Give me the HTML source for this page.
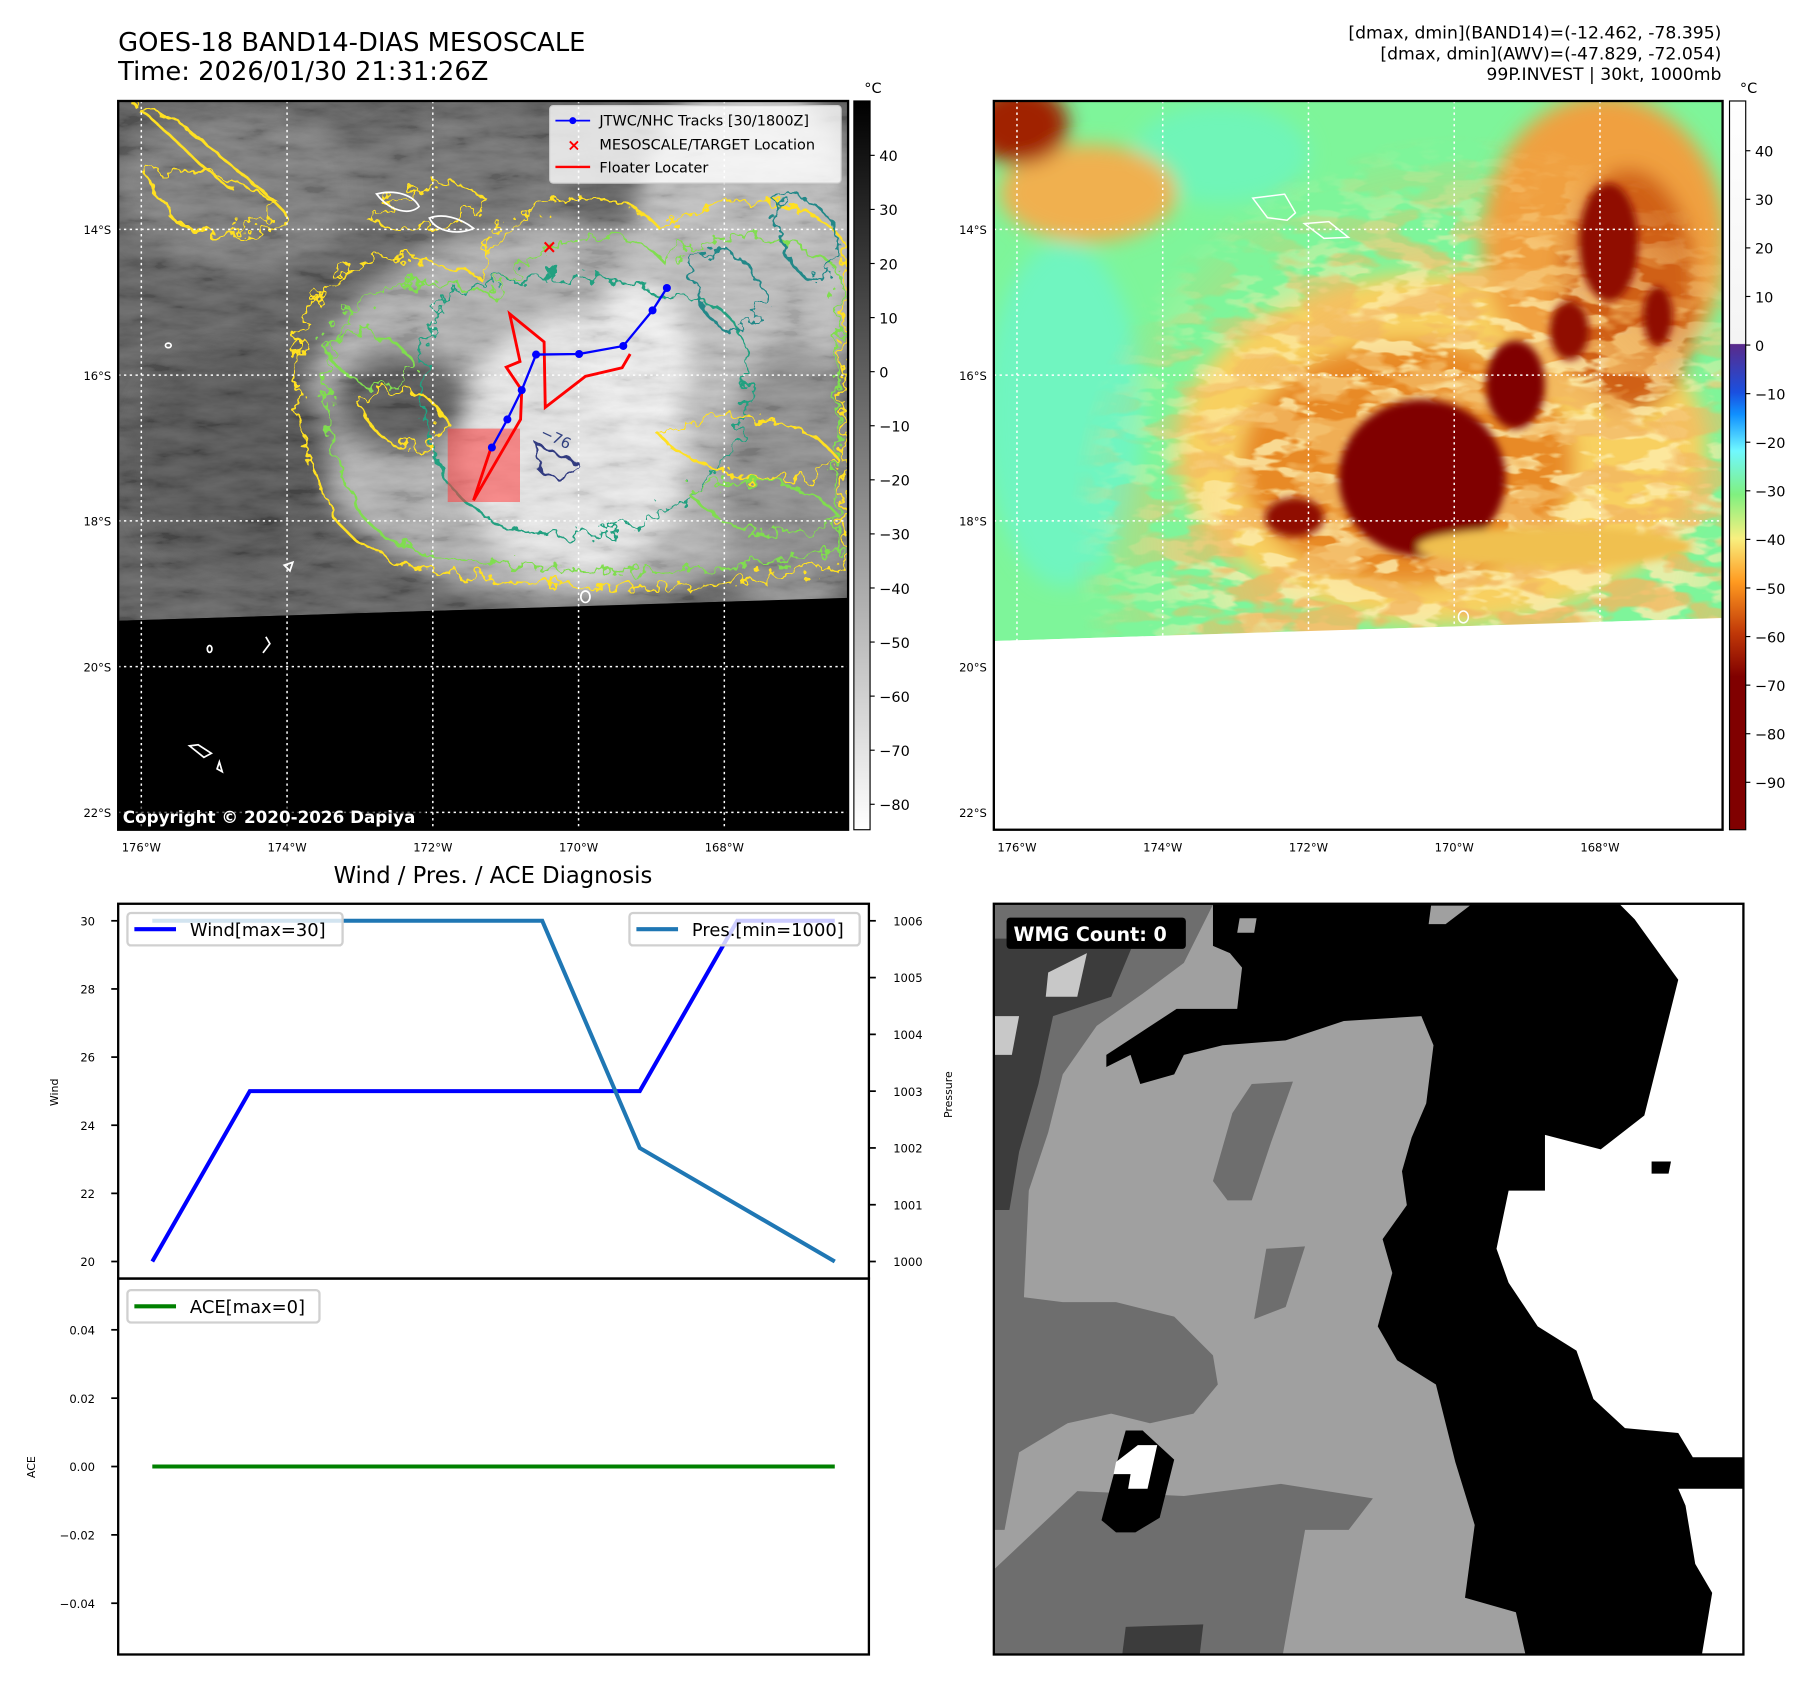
<!DOCTYPE html>
<html><head><meta charset="utf-8">
<style>
html,body{margin:0;padding:0;background:#fff;}
svg{display:block;font-family:"DejaVu Sans","Liberation Sans",sans-serif;}
</style></head>
<body>
<svg id="fig" width="1813" height="1690" viewBox="1 -0.3 1567 1461" xmlns="http://www.w3.org/2000/svg">
<defs>
  <clipPath id="cm1"><rect x="103" y="87" width="631" height="630"/></clipPath>
  <clipPath id="cm2"><rect x="860" y="87" width="630" height="630"/></clipPath>
  <clipPath id="cw"><rect x="860" y="781" width="648" height="649"/></clipPath>
  <filter id="blur8" x="-50%" y="-50%" width="200%" height="200%"><feGaussianBlur stdDeviation="8"/></filter>
  <filter id="blur20" x="-50%" y="-50%" width="200%" height="200%"><feGaussianBlur stdDeviation="20"/></filter>
  <filter id="wig" x="-10%" y="-10%" width="120%" height="120%">
    <feTurbulence type="fractalNoise" baseFrequency="0.04" numOctaves="3" seed="3"/>
    <feDisplacementMap in="SourceGraphic" scale="55"/>
  </filter>
  <filter id="wig2" x="-10%" y="-10%" width="120%" height="120%">
    <feTurbulence type="fractalNoise" baseFrequency="0.05" numOctaves="2" seed="8"/>
    <feDisplacementMap in="SourceGraphic" scale="30"/>
  </filter>
  <filter id="tex1" x="0" y="0" width="100%" height="100%">
    <feTurbulence type="fractalNoise" baseFrequency="0.012 0.04" numOctaves="4" seed="11"/>
    <feColorMatrix type="matrix" values="1.6 0 0 0 -0.35  1.6 0 0 0 -0.35  1.6 0 0 0 -0.35  0 0 0 0 0.45"/>
  </filter>
  <filter id="tex2" x="0" y="0" width="100%" height="100%">
    <feTurbulence type="fractalNoise" baseFrequency="0.008 0.02" numOctaves="3" seed="5"/>
    <feColorMatrix type="matrix" values="0 0 0 0 0.90  0 0 0 0 0.48  0 0 0 0 0.12  0 0 0 9 -4.2"/>
  </filter>
  <filter id="tex3" x="0" y="0" width="100%" height="100%">
    <feTurbulence type="fractalNoise" baseFrequency="0.012 0.03" numOctaves="3" seed="21"/>
    <feColorMatrix type="matrix" values="0 0 0 0 0.98  0 0 0 0 0.85  0 0 0 0 0.42  0 0 0 9 -4.4"/>
  </filter>
  <radialGradient id="m2g" cx="0.6" cy="0.55" r="0.5">
    <stop offset="0" stop-color="#fff"/><stop offset="0.55" stop-color="#fff"/><stop offset="1" stop-color="#000"/>
  </radialGradient>
  <mask id="m2mask"><rect x="0" y="0" width="1600" height="1600" fill="url(#m2g)"/></mask>
  <linearGradient id="cb1g" x1="0" y1="0" x2="0" y2="1">
    <stop offset="0" stop-color="#000"/><stop offset="1" stop-color="#fff"/>
  </linearGradient>
  <linearGradient id="cb2g" x1="0" y1="0" x2="0" y2="1">
    <stop offset="0" stop-color="#ffffff"/>
    <stop offset="0.333" stop-color="#f4f4f4"/>
    <stop offset="0.334" stop-color="#5a2a8a"/>
    <stop offset="0.40" stop-color="#1a50e0"/>
    <stop offset="0.43" stop-color="#1090ff"/>
    <stop offset="0.48" stop-color="#70f8ff"/>
    <stop offset="0.54" stop-color="#80f080"/>
    <stop offset="0.60" stop-color="#f8f080"/>
    <stop offset="0.66" stop-color="#ff9a20"/>
    <stop offset="0.73" stop-color="#c03808"/>
    <stop offset="0.79" stop-color="#800000"/>
    <stop offset="1" stop-color="#800000"/>
  </linearGradient>
</defs>

<!-- titles -->
<text x="103" y="44" font-size="22.3">GOES-18 BAND14-DIAS MESOSCALE</text>
<text x="103" y="69" font-size="22.3">Time: 2026/01/30 21:31:26Z</text>
<g font-size="14.9" text-anchor="end">
  <text x="1489" y="33">[dmax, dmin](BAND14)=(-12.462, -78.395)</text>
  <text x="1489" y="51">[dmax, dmin](AWV)=(-47.829, -72.054)</text>
  <text x="1489" y="69">99P.INVEST | 30kt, 1000mb</text>
</g>

<!-- MAP 1 -->
<g clip-path="url(#cm1)">
  <rect x="103" y="87" width="631" height="630" fill="#000"/>
  <g transform="translate(1,-0.3) scale(0.496)">
    <polygon points="207,175 1478,175 1478,1042 207,1082" fill="#5c5c5c"/>
    <g filter="url(#blur20)">
      <ellipse cx="420" cy="330" rx="220" ry="140" fill="#7a7a7a"/>
      <ellipse cx="800" cy="320" rx="200" ry="120" fill="#6e6e6e"/>
      <ellipse cx="1000" cy="720" rx="470" ry="330" fill="#b0b0b0"/>
      <ellipse cx="1300" cy="450" rx="200" ry="330" fill="#bdbdbd"/>
      <ellipse cx="1380" cy="850" rx="120" ry="250" fill="#8c8c8c"/>
      <ellipse cx="1000" cy="780" rx="200" ry="230" fill="#e8e8e8"/>
      <ellipse cx="1110" cy="620" rx="90" ry="130" fill="#f0f0f0"/>
      <ellipse cx="700" cy="700" rx="120" ry="90" fill="#555"/>
      <ellipse cx="400" cy="800" rx="180" ry="200" fill="#505050"/>
    </g>
    <rect x="207" y="175" width="1271" height="910" filter="url(#tex1)" opacity="0.3"/>
    <g fill="none" stroke-width="4.5" filter="url(#wig)">
      <path d="M530,560 C560,450 700,420 830,480 C900,300 1100,330 1150,400 C1250,330 1400,330 1470,420 L1470,980 C1300,1020 1100,1040 880,1010 C700,1000 600,960 570,870 C520,780 500,680 530,560 Z" stroke="#ffe020"/>
      <path d="M580,590 C620,490 760,470 860,520 C940,380 1100,400 1150,450 C1260,400 1380,400 1460,470 L1460,960 C1300,990 1100,1010 900,985 C730,980 640,940 610,860 C570,780 560,680 580,590 Z" stroke="#80dd50"/>
      <path d="M780,520 C840,470 1100,470 1160,520 C1240,500 1320,560 1300,700 C1290,820 1180,900 1050,930 C900,950 800,900 760,800 C720,700 730,580 780,520 Z" stroke="#20a080"/>
      <path d="M620,700 C680,660 760,680 780,740 C740,800 660,790 620,700 Z" stroke="#ffe020"/>
      <path d="M560,600 C620,560 700,580 720,640 C680,690 600,680 560,600 Z" stroke="#80dd50"/>
      <path d="M1150,760 C1250,700 1400,720 1460,800 C1400,860 1250,850 1150,760 Z" stroke="#ffe020"/>
      <path d="M1200,860 C1300,820 1420,840 1460,900 C1400,950 1270,940 1200,860 Z" stroke="#80dd50"/>
      <path d="M230,180 C300,230 350,300 420,340 M230,180 C320,200 360,260 480,350 C440,420 330,420 290,370" stroke="#ffe020"/>
      <path d="M250,300 C350,280 480,330 500,380 C470,420 380,420 300,380 Z" stroke="#ffe020"/>
      <path d="M640,380 C700,330 780,300 840,340 C820,400 720,420 640,380 Z" stroke="#ffe020"/>
      <path d="M1200,450 C1250,420 1320,440 1330,520 C1300,600 1220,600 1200,450 Z" stroke="#208888"/>
      <path d="M1350,350 C1400,330 1460,360 1460,450 C1420,520 1360,480 1350,350 Z" stroke="#208888"/>
    </g>
    <path d="M930,770 C960,790 990,800 1010,810 C1000,840 960,840 940,820 Z" fill="none" stroke="#303a80" stroke-width="4" filter="url(#wig2)"/>
    <text x="940" y="760" font-size="26" fill="#304080" transform="rotate(25 940 760)">−76</text>
    <polygon points="207,1082 1478,1042 1478,1446 207,1446" fill="#000"/>
    <g fill="none" stroke="#fff" stroke-width="3">
      <path d="M656,338 C690,330 720,340 730,360 C715,375 680,370 656,338 Z"/>
      <path d="M748,380 C770,372 800,378 825,398 C800,410 760,405 748,380 Z"/>
      <ellipse cx="293" cy="602" rx="5" ry="4"/>
      <ellipse cx="365" cy="1131" rx="4" ry="6"/>
      <path d="M463,1110 L470,1122 L458,1138"/>
      <path d="M330,1300 L345,1298 L368,1313 L355,1320 Z"/>
      <path d="M382,1328 L387,1345 L378,1340 Z"/>
      <path d="M495,985 L510,980 L505,995 Z"/>
      <ellipse cx="1020" cy="1040" rx="8" ry="10"/>
    </g>
  </g>
  <g stroke="#fff" stroke-width="1.3" stroke-dasharray="2,3">
    <line x1="123" y1="87" x2="123" y2="717"/><line x1="249" y1="87" x2="249" y2="717"/><line x1="375" y1="87" x2="375" y2="717"/><line x1="501" y1="87" x2="501" y2="717"/><line x1="627" y1="87" x2="627" y2="717"/>
    <line x1="103" y1="198" x2="734" y2="198"/><line x1="103" y1="324" x2="734" y2="324"/><line x1="103" y1="450" x2="734" y2="450"/><line x1="103" y1="576" x2="734" y2="576"/><line x1="103" y1="702" x2="734" y2="702"/>
  </g>
  <g transform="translate(1,-0.3) scale(0.496)">
    <rect x="780" y="747" width="126" height="128" fill="rgba(255,60,60,0.55)"/>
    <polyline points="1098,617 1084,641 1020,656 950,710 948,596 888,547 906,630 882,640 909,680 907,731 825,872 855,782" fill="none" stroke="#ff0000" stroke-width="5"/>
    <polyline points="857,780 884,731 909,680 934,618 1009,617 1086,603 1137,541 1162,502" fill="none" stroke="#0000ff" stroke-width="4"/>
    <g fill="#0000ff">
      <circle cx="857" cy="780" r="7"/><circle cx="884" cy="731" r="7"/><circle cx="909" cy="680" r="7"/><circle cx="934" cy="618" r="7"/><circle cx="1009" cy="617" r="7"/><circle cx="1086" cy="603" r="7"/><circle cx="1137" cy="541" r="7"/><circle cx="1162" cy="502" r="7"/>
    </g>
    <text x="957" y="441" font-size="32" font-weight="bold" fill="#ff0000" text-anchor="middle">×</text>
  </g>
  <g>
    <rect x="476" y="91" width="252" height="67" rx="3" fill="rgba(255,255,255,0.8)" stroke="#ccc"/>
    <line x1="481" y1="104" x2="511" y2="104" stroke="#0000ff" stroke-width="1.5"/><circle cx="496" cy="104" r="3" fill="#0000ff"/>
    <text x="497" y="130" font-size="14" fill="#ff0000" font-weight="bold" text-anchor="middle">×</text>
    <line x1="481" y1="144" x2="511" y2="144" stroke="#ff0000" stroke-width="2"/>
    <g font-size="12.5" fill="#000">
      <text x="519" y="108">JTWC/NHC Tracks [30/1800Z]</text>
      <text x="519" y="129">MESOSCALE/TARGET Location</text>
      <text x="519" y="149">Floater Locater</text>
    </g>
  </g>
  <rect x="104" y="695" width="265" height="22" fill="rgba(0,0,0,0.6)"/>
  <text x="107" y="711" font-size="14.5" font-weight="bold" fill="#fff">Copyright © 2020-2026 Dapiya</text>
</g>
<rect x="103" y="87" width="631" height="630" fill="none" stroke="#000" stroke-width="2"/>

<g font-size="10" text-anchor="end">
  <text x="97" y="202">14°S</text><text x="97" y="328">16°S</text><text x="97" y="454">18°S</text><text x="97" y="580">20°S</text><text x="97" y="706">22°S</text>
</g>
<g font-size="10" text-anchor="middle">
  <text x="123" y="736">176°W</text><text x="249" y="736">174°W</text><text x="375" y="736">172°W</text><text x="501" y="736">170°W</text><text x="627" y="736">168°W</text>
</g>
<g>
  <rect x="739" y="87" width="14" height="630" fill="url(#cb1g)" stroke="#000" stroke-width="1"/>
  <text x="748" y="80" font-size="12.5">°C</text>
  <g font-size="12.5" id="cb1ticks"></g>
</g>

<!-- MAP 2 -->
<g clip-path="url(#cm2)">
  <rect x="860" y="87" width="630" height="630" fill="#fff"/>
  <g transform="translate(856.7,81.8) scale(0.4245)">
    <polygon points="10,10 1495,10 1495,1065 10,1112" fill="#7ef59a"/>
    <g filter="url(#blur20)">
      <ellipse cx="150" cy="650" rx="160" ry="350" fill="#70f5c0"/>
      <ellipse cx="470" cy="120" rx="180" ry="100" fill="#70f5b8"/>
      <ellipse cx="920" cy="720" rx="540" ry="360" fill="#f8d060"/>
      <ellipse cx="1250" cy="300" rx="250" ry="300" fill="#f0a040"/>
      <ellipse cx="200" cy="200" rx="180" ry="100" fill="#f0b050"/>
      <ellipse cx="850" cy="750" rx="340" ry="250" fill="#e88a28"/>
      <ellipse cx="1300" cy="400" rx="140" ry="250" fill="#d06018"/>
      <ellipse cx="60" cy="60" rx="100" ry="80" fill="#a02000"/>
    </g>
    <rect x="10" y="10" width="1490" height="1100" filter="url(#tex3)" mask="url(#m2mask)" opacity="0.8"/>
    <rect x="10" y="10" width="1490" height="1100" filter="url(#tex2)" mask="url(#m2mask)" opacity="0.8"/>
    <g filter="url(#blur8)">
      <ellipse cx="880" cy="780" rx="170" ry="160" fill="#800000"/>
      <ellipse cx="1070" cy="590" rx="60" ry="90" fill="#800000"/>
      <ellipse cx="620" cy="860" rx="60" ry="40" fill="#900800"/>
      <ellipse cx="1260" cy="300" rx="60" ry="120" fill="#900800"/>
      <ellipse cx="1180" cy="480" rx="40" ry="60" fill="#900800"/>
      <ellipse cx="1360" cy="450" rx="30" ry="60" fill="#900800"/>
      <ellipse cx="1150" cy="920" rx="280" ry="40" fill="#f0c050"/>
    </g>
    <polygon points="10,1112 1495,1065 1495,1560 10,1560" fill="#fff"/>
    <g fill="none" stroke="#fff" stroke-width="3">
      <path d="M535,210 L600,202 L622,240 L605,255 L565,250 Z"/>
      <path d="M640,262 L690,258 L730,290 L680,292 Z"/>
      <ellipse cx="964" cy="1063" rx="10" ry="12"/>
    </g>
  </g>
  <g stroke="#fff" stroke-width="1.3" stroke-dasharray="2,3">
    <line x1="880" y1="87" x2="880" y2="717"/><line x1="1006" y1="87" x2="1006" y2="717"/><line x1="1132" y1="87" x2="1132" y2="717"/><line x1="1258" y1="87" x2="1258" y2="717"/><line x1="1384" y1="87" x2="1384" y2="717"/>
    <line x1="860" y1="198" x2="1490" y2="198"/><line x1="860" y1="324" x2="1490" y2="324"/><line x1="860" y1="450" x2="1490" y2="450"/>
  </g>
</g>
<rect x="860" y="87" width="630" height="630" fill="none" stroke="#000" stroke-width="2"/>
<g font-size="10" text-anchor="end">
  <text x="854" y="202">14°S</text><text x="854" y="328">16°S</text><text x="854" y="454">18°S</text><text x="854" y="580">20°S</text><text x="854" y="706">22°S</text>
</g>
<g font-size="10" text-anchor="middle">
  <text x="880" y="736">176°W</text><text x="1006" y="736">174°W</text><text x="1132" y="736">172°W</text><text x="1258" y="736">170°W</text><text x="1384" y="736">168°W</text>
</g>
<g>
  <rect x="1496" y="87" width="14" height="630" fill="url(#cb2g)" stroke="#000" stroke-width="1"/>
  <text x="1505" y="80" font-size="12.5">°C</text>
  <g font-size="12.5" id="cb2ticks"></g>
</g>

<!-- WMG panel -->
<g clip-path="url(#cw)">
  <rect x="860" y="781" width="648" height="649" fill="#a0a0a0"/>
  <g transform="translate(856.7,777.6) scale(0.419)">
    <polygon fill="#6e6e6e" points="10,10 460,10 400,130 320,190 220,260 150,360 120,480 80,600 70,820 150,830 260,830 380,860 460,940 470,1000 420,1060 330,1080 250,1060 160,1080 60,1140 30,1300 10,1300"/>
    <polygon fill="#3c3c3c" points="10,80 300,80 250,200 130,240 100,380 60,520 40,640 10,640"/>
    <polygon fill="#c8c8c8" points="120,150 200,110 180,200 115,200"/>
    <polygon fill="#c8c8c8" points="10,240 60,240 45,320 10,320"/>
    <polygon fill="#6e6e6e" points="540,380 625,375 580,500 540,620 490,620 460,580 500,440"/>
    <polygon fill="#6e6e6e" points="570,720 650,715 610,840 545,865"/>
    <polygon fill="#6e6e6e" points="10,1380 180,1220 400,1230 600,1205 790,1235 740,1300 650,1300 600,1580 10,1580"/>
    <polygon fill="#3c3c3c" points="280,1500 440,1495 430,1580 270,1580"/>
    <polygon fill="#000" points="460,10 1580,10 1580,1580 1110,1580 1085,1470 980,1440 1000,1290 960,1160 920,1000 840,950 800,880 830,770 810,700 860,630 850,560 870,490 900,420 915,300 890,240 730,250 610,290 480,300 400,320 380,360 310,380 290,320 240,345 240,320 385,225 510,225 520,140 495,110 460,95"/>
    <polygon fill="#a0a0a0" points="910,12 990,12 940,50 905,50"/>
    <polygon fill="#a0a0a0" points="515,38 550,38 545,68 510,68"/>
    <polygon fill="#fff" points="1300,10 1580,10 1580,1150 1450,1150 1420,1100 1310,1090 1245,1030 1210,930 1130,880 1070,790 1045,720 1070,600 1145,600 1145,485 1260,515 1350,445 1420,165 1330,40"/>
    <polygon fill="#000" points="1365,540 1405,540 1400,565 1365,565"/>
    <polygon fill="#fff" points="1420,1215 1580,1215 1580,1580 1465,1580 1490,1430 1455,1370 1435,1250"/>
    <polygon fill="#000" points="280,1095 315,1095 380,1155 350,1275 300,1305 260,1305 230,1280 270,1130"/>
    <polygon fill="#fff" points="260,1160 305,1125 345,1125 325,1215 285,1215 290,1185 255,1185"/>
  </g>
  <rect x="871" y="793" width="155" height="27" rx="3" fill="#000"/>
  <text x="877" y="813" font-size="16.5" font-weight="bold" fill="#fff">WMG Count: 0</text>
</g>
<rect x="860" y="781" width="648" height="649" fill="none" stroke="#000" stroke-width="2"/>

<!-- Diagnosis chart -->
<text x="427" y="763" font-size="19.6" text-anchor="middle">Wind / Pres. / ACE Diagnosis</text>
<g id="chart"></g>
</svg>

<script>
// ---- chart data ----
const timeIndex = [0, 1, 2, 3, 4, 5, 6, 7];
const windValues = [20, 25, 25, 25, 25, 25, 30, 30];
const presValues = [1006, 1006, 1006, 1006, 1006, 1002, 1001, 1000];
const aceValues = [0, 0, 0, 0, 0, 0, 0, 0];
const windTicks = [20, 22, 24, 26, 28, 30];
const presTicks = [1000, 1001, 1002, 1003, 1004, 1005, 1006];
const aceTicks = [-0.04, -0.02, 0.00, 0.02, 0.04];
const aceTickLabels = ["\u22120.04", "\u22120.02", "0.00", "0.02", "0.04"];
const cb1Ticks = [40, 30, 20, 10, 0, -10, -20, -30, -40, -50, -60, -70, -80];
const cb2Ticks = [40, 30, 20, 10, 0, -10, -20, -30, -40, -50, -60, -70, -80, -90];

const NS = "http://www.w3.org/2000/svg";
function mk(tag, attrs, parent) {
  const e = document.createElementNS(NS, tag);
  for (const k in attrs) e.setAttribute(k, attrs[k]);
  parent.appendChild(e);
  return e;
}
const L = 103, R = 752, T1 = 781, B1 = 1105, T2 = 1105, B2 = 1430;
const xmin = -0.35, xmax = 7.35;
function xs(v) { return L + (v - xmin) / (xmax - xmin) * (R - L); }
function yWind(v) { return B1 - (v - 19.5) / (30.5 - 19.5) * (B1 - T1); }
function yPres(v) { return B1 - (v - 999.7) / (1006.3 - 999.7) * (B1 - T1); }
function yAce(v) { return B2 - (v + 0.055) / 0.11 * (B2 - T2); }
function fmtMinus(v) { return (v < 0 ? "\u2212" + Math.abs(v) : "" + v); }

const chart = document.getElementById("chart");
const f1 = mk("rect", {x: L, y: T1, width: R - L, height: B1 - T1, fill: "none", stroke: "#000", "stroke-width": 2}, chart);


const f2 = mk("rect", {x: L, y: T2, width: R - L, height: B2 - T2, fill: "none", stroke: "#000", "stroke-width": 2}, chart);



windTicks.forEach(v => {
  const y = yWind(v);
  mk("line", {x1: L - 6, y1: y, x2: L, y2: y, stroke: "#000", "stroke-width": 1.5}, chart);
  const t = mk("text", {x: L - 20, y: y + 4, "font-size": 10, "text-anchor": "end"}, chart);
  t.textContent = v;
  
  
});
presTicks.forEach(v => {
  const y = yPres(v);
  mk("line", {x1: R, y1: y, x2: R + 6, y2: y, stroke: "#000", "stroke-width": 1.5}, chart);
  const t = mk("text", {x: R + 21, y: y + 4, "font-size": 10}, chart);
  t.textContent = v;
  
  
});
aceTicks.forEach((v, i) => {
  const y = yAce(v);
  mk("line", {x1: L - 6, y1: y, x2: L, y2: y, stroke: "#000", "stroke-width": 1.5}, chart);
  const t = mk("text", {x: L - 20, y: y + 4, "font-size": 10, "text-anchor": "end"}, chart);
  t.textContent = aceTickLabels[i];
  
  
});
function ylabel(txt, x, y, name) {
  const t = mk("text", {x: x, y: y, "font-size": 9.5, "text-anchor": "middle", transform: "rotate(-90 " + x + " " + y + ")"}, chart);
  t.textContent = txt;
  
  
}
ylabel("Wind", 51, 944, "wind-axis-title");
ylabel("Pressure", 824, 946, "pressure-axis-title");
ylabel("ACE", 31, 1268, "ace-axis-title");

function line(vals, yf, color, name) {
  const pts = vals.map((v, i) => xs(timeIndex[i]).toFixed(1) + "," + yf(v).toFixed(1)).join(" ");
  const p = mk("polyline", {points: pts, fill: "none", stroke: color, "stroke-width": 3.5}, chart);
  
  
}
line(windValues, yWind, "#0000ff", "wind-line");
line(presValues, yPres, "#1f77b4", "pressure-line");
line(aceValues, yAce, "#008000", "ace-line");

function legend(x, y, w, color, txt, name) {
  const g = mk("g", {}, chart);
  
  
  mk("rect", {x: x, y: y, width: w, height: 28, rx: 3, fill: "rgba(255,255,255,0.8)", stroke: "#d0d0d0", "stroke-width": 2}, g);
  mk("line", {x1: x + 6, y1: y + 14, x2: x + 42, y2: y + 14, stroke: color, "stroke-width": 3.5}, g);
  const t = mk("text", {x: x + 54, y: y + 20, "font-size": 15.5}, g);
  t.textContent = txt;
}
legend(111, 789, 186, "#0000ff", "Wind[max=30]", "wind-legend");
legend(545, 789, 199, "#1f77b4", "Pres.[min=1000]", "pressure-legend");
legend(111, 1115, 166, "#008000", "ACE[max=0]", "ace-legend");

function cbTicks(id, ticks, x0, y40, per10) {
  const g = document.getElementById(id);
  ticks.forEach(v => {
    const y = y40 + (40 - v) / 10 * per10;
    mk("line", {x1: x0, y1: y, x2: x0 + 4, y2: y, stroke: "#000", "stroke-width": 1}, g);
    const t = mk("text", {x: x0 + 8, y: y + 5}, g);
    t.textContent = fmtMinus(v);
    
    
  });
}
cbTicks("cb1ticks", cb1Ticks, 753, 134, 46.75);
cbTicks("cb2ticks", cb2Ticks, 1510, 130, 42);
</script>
</body></html>
